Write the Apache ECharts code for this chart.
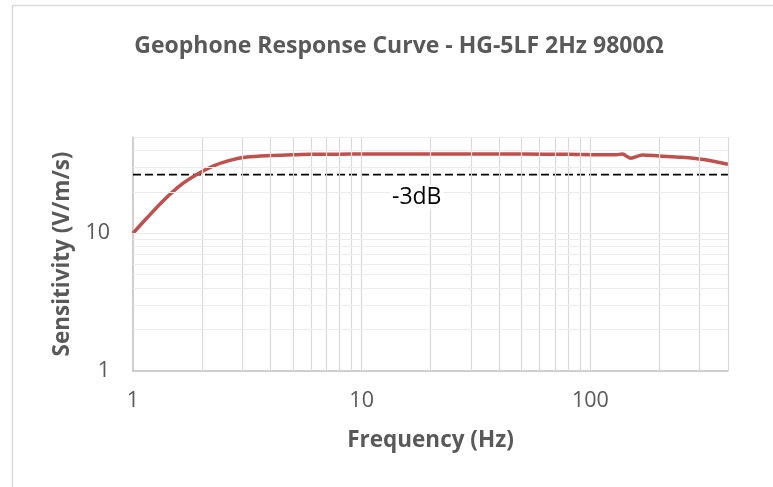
<!DOCTYPE html>
<html>
<head>
<meta charset="utf-8">
<script src="https://cdn.jsdelivr.net/npm/echarts@6/dist/echarts.min.js"></script>
<style>
  html, body { margin: 0; padding: 0; background: #fff; }
  #chart { width: 773px; height: 487px; }
</style>
</head>
<body>
<div id="chart"></div>
<script>
// response curve
var freq = [1, 1.15, 1.35, 1.6, 1.9, 2.25, 2.65, 3.15, 4, 5, 6, 8, 10, 20, 50, 80, 110, 130, 138, 150, 169, 200, 253, 300, 354, 400];
var sens = [10, 12.9, 17.1, 22.1, 26.7, 30.8, 33.8, 35.8, 36.7, 37.1, 37.4, 37.5, 37.6, 37.6, 37.6, 37.4, 37.1, 37.2, 37.6, 35.1, 37.0, 36.4, 35.6, 34.6, 33.1, 31.7];

// -3dB reference line
var dbFreq = [1, 400];
var dbLevel = [26.7, 26.7];

// gridline positions (log axes)
var xGrid = [2, 3, 4, 5, 6, 7, 8, 9, 10, 20, 30, 40, 50, 60, 70, 80, 90, 100, 200, 300, 400];
var yGrid = [2, 3, 4, 5, 6, 7, 8, 9, 10, 20, 30, 40, 50];

var chart = echarts.init(document.getElementById('chart'));

var gridLines = [];
xGrid.forEach(function (v) {
    gridLines.push({ xAxis: v, lineStyle: { color: '#d9d9d9', width: 1.2, type: 'solid' } });
});
yGrid.forEach(function (v) {
    gridLines.push({ yAxis: v, lineStyle: { color: '#ececec', width: 1.2, type: 'solid' } });
});

var txtColor = '#595959';

// only 1, 10, 100 get a label
function decadeLabel(v) {
    var l = Math.log10(v);
    return Math.abs(l - Math.round(l)) < 1e-6 ? String(Math.round(v)) : '';
}

var option = {
    animation: false,
    title: {
        text: 'Geophone Response Curve - HG-5LF 2Hz 9800Ω',
        left: 394,
        top: 30,
        textAlign: 'center',
        textStyle: {
            fontFamily: 'Open Sans',
            fontWeight: 'bold',
            fontSize: 23,
            color: txtColor
        }
    },
    grid: {
        left: 133,
        right: 45,
        top: 137,
        bottom: 116
    },
    xAxis: {
        type: 'log',
        logBase: 10,
        min: 1,
        max: 400,
        name: 'Frequency (Hz)',
        nameLocation: 'middle',
        nameGap: 58,
        nameTextStyle: {
            fontFamily: 'Open Sans',
            fontWeight: 'bold',
            fontSize: 22.5,
            color: txtColor
        },
        axisLine: { lineStyle: { color: '#bfbfbf', width: 1.5 } },
        axisTick: { show: false },
        splitLine: { show: false },
        axisLabel: {
            margin: 19,
            fontFamily: 'Open Sans',
            fontSize: 21.5,
            color: txtColor,
            showMaxLabel: false,
            formatter: decadeLabel
        }
    },
    yAxis: {
        type: 'log',
        logBase: 10,
        min: 1,
        max: 50,
        name: 'Sensitivity (V/m/s)',
        nameLocation: 'middle',
        nameGap: 58,
        nameTextStyle: {
            fontFamily: 'Open Sans',
            fontWeight: 'bold',
            fontSize: 22.5,
            color: txtColor
        },
        axisLine: { show: true, lineStyle: { color: '#bfbfbf', width: 1.5 } },
        axisTick: { show: false },
        splitLine: { show: false },
        axisLabel: {
            margin: 23,
            fontFamily: 'Open Sans',
            fontSize: 21.5,
            color: txtColor,
            showMaxLabel: false,
            formatter: decadeLabel
        }
    },
    graphic: [
        {
            type: 'rect',
            shape: { x: 12.5, y: 5.5, width: 800, height: 500 },
            style: { fill: 'none', stroke: '#d9d9d9', lineWidth: 1.5 },
            silent: true
        },
        {
            type: 'text',
            left: 390,
            top: 185,
            z: 10,
            style: {
                text: '-3dB',
                fontFamily: 'Open Sans',
                fontSize: 23,
                fill: '#000',
                backgroundColor: '#fff',
                padding: [1, 2, 0, 2]
            }
        }
    ],
    series: [
        {
            // gridlines
            name: 'grid',
            type: 'line',
            z: 1,
            silent: true,
            symbol: 'none',
            lineStyle: { width: 0 },
            data: [[1, 1]],
            markLine: {
                silent: true,
                symbol: ['none', 'none'],
                label: { show: false },
                animation: false,
                data: gridLines
            }
        },
        {
            name: '-3dB',
            type: 'line',
            z: 3,
            symbol: 'none',
            lineStyle: { color: '#000', width: 1.7, type: [8, 4] },
            data: dbFreq.map(function (f, i) { return [f, dbLevel[i]]; })
        },
        {
            name: 'Sensitivity',
            type: 'line',
            z: 4,
            symbol: 'none',
            smooth: 0.3,
            lineStyle: { color: '#c0504d', width: 3.5 },
            data: freq.map(function (f, i) { return [f, sens[i]]; })
        }
    ]
};

chart.setOption(option);
</script>
</body>
</html>
